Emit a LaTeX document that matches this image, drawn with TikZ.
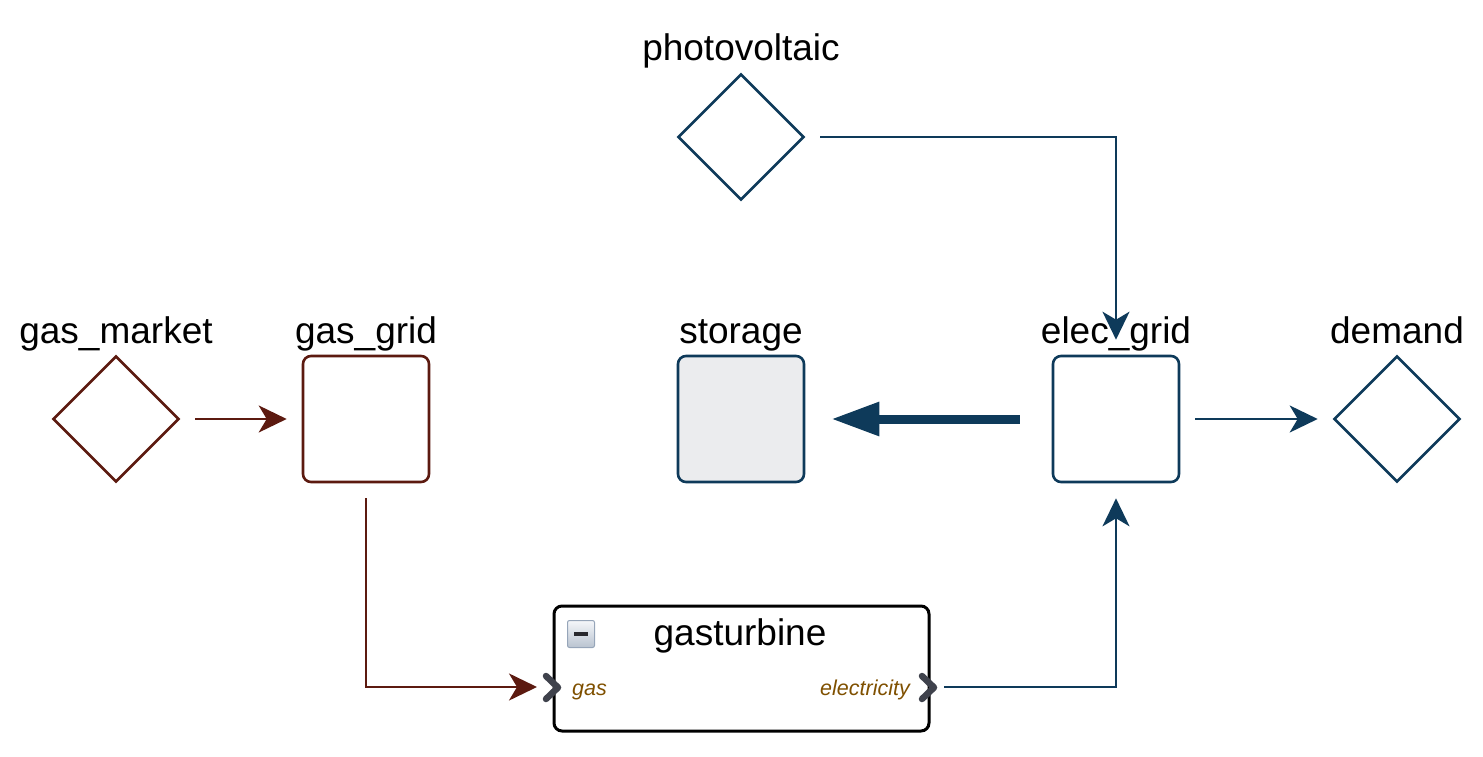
\documentclass[tikz,border=0pt]{standalone}
\usepackage{fontspec}
\setmainfont{Liberation Sans}
\usetikzlibrary{shapes.geometric,arrows.meta}
\definecolor{gasred}{HTML}{5C1A10}
\definecolor{navy}{HTML}{0E3A5A}
\definecolor{stfill}{HTML}{EBECEE}
\definecolor{portlbl}{HTML}{7F5000}
\definecolor{chev}{HTML}{3F424C}
\tikzset{
  dia/.style={diamond, draw, line width=2.6pt, minimum width=126pt, minimum height=126pt, inner sep=0pt},
  sq/.style={rectangle, rounded corners=8pt, draw, line width=2.6pt, minimum width=126pt, minimum height=126pt, inner sep=0pt},
  lbl/.style={font=\fontsize{37}{42}\selectfont, anchor=base, inner sep=0pt},
  plbl/.style={font=\fontsize{21.5}{24}\selectfont\itshape, text=portlbl, anchor=base, inner sep=0pt},
  thin/.style={line width=2.6pt, -{Stealth[length=28pt,width=27pt,inset=8pt]}, shorten <=15pt, shorten >=15pt},
  chevron/.style={draw=chev, line width=6.5pt, line cap=round, line join=round},
}
\begin{document}
\begin{tikzpicture}[x=1pt,y=-1pt]
\useasboundingbox (0,0) rectangle (1483,757);
% nodes
\node[dia, draw=gasred] (gm) at (116,419) {};
\node[sq, draw=gasred] (gg) at (366,419) {};
\node[sq, draw=navy, fill=stfill] (st) at (741,419) {};
\node[sq, draw=navy] (eg) at (1116,419) {};
\node[dia, draw=navy] (dm) at (1397,419) {};
\node[dia, draw=navy] (pv) at (741,137) {};
\node[rectangle, rounded corners=8pt, draw=black, line width=3pt, minimum width=375pt, minimum height=125pt, inner sep=0pt] (gt) at (741.5,668.5) {};
% labels
\node[lbl] (lgm) at (116,343) {gas\_market};
\node[lbl] (lgg) at (366,343) {gas\_grid};
\node[lbl] (lst) at (741,343) {storage};
\node[lbl] (leg) at (1116,343) {elec\_grid};
\node[lbl] (ldm) at (1397,343) {demand};
\node[lbl] (lpv) at (741,61) {photovoltaic};
\node[lbl] (lgt) at (740,645) {gasturbine};
\node[plbl, anchor=base west] (lgas) at (572,695) {gas};
\node[plbl, anchor=base east] (lel) at (910,695) {electricity};
% collapse icon
\node[rectangle, rounded corners=2pt, draw={rgb,255:red,150;green,165;blue,185}, line width=1pt, top color={rgb,255:red,245;green,247;blue,250}, bottom color={rgb,255:red,185;green,195;blue,208}, minimum width=27pt, minimum height=27pt, inner sep=0pt] (icon) at (581,634) {};
\draw[line width=3.5pt, draw={rgb,255:red,40;green,40;blue,45}] ([xshift=-7pt]icon.center) -- ([xshift=7pt]icon.center);
% ports
\coordinate (gin) at (552,687);
\coordinate (eout) at (929,687);
\draw[chevron] (546,676) -- (558,687.5) -- (546,699);
\draw[chevron] (922,676) -- (934,687.5) -- (922,699);
% connectors
\draw[thin, draw=gasred] (gm) -- (gg);
\draw[thin, draw=navy] (eg) -- (dm);
\draw[thin, draw=navy] (pv.east) -| (eg.north);
\draw[thin, draw=gasred] (gg.south) |- (gin);
\draw[thin, draw=navy] (eout) -| (eg.south);
\draw[line width=9pt, draw=navy, -{Triangle[length=48pt,width=32pt]}, shorten <=32pt, shorten >=26pt] (eg.west) -- (st.east);
\end{tikzpicture}
\end{document}
